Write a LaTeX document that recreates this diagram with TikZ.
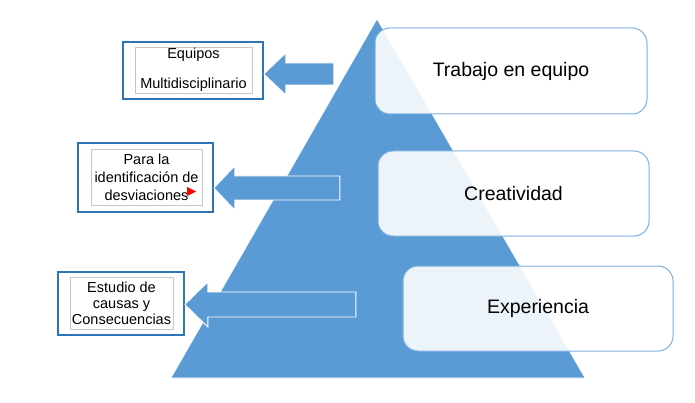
\documentclass[tikz,border=0pt]{standalone}
\usepackage{fontspec}
\setmainfont{Liberation Sans}
\definecolor{piramide}{HTML}{5B9BD5}
\definecolor{marco}{HTML}{2E75B6}
\definecolor{borde}{HTML}{80B0DE}

\tikzset{
  nivel/.style={draw=borde, line width=1pt, fill=white, fill opacity=.89, text opacity=1,
                rounded corners=15pt, inner sep=0pt, font=\fontsize{19.5}{23}\selectfont},
  caja/.style={draw=marco, line width=1.7pt, fill=white, inner sep=0pt},
  cajita/.style={draw=gray!45, line width=.7pt, inner sep=0pt, align=center,
                 font=\fontsize{14.5}{17}\selectfont},
  flecha/.style={fill=piramide, draw=white, line width=.8pt},
}

\begin{document}
\begin{tikzpicture}[x=1pt,y=-1pt]
	\useasboundingbox (0,0) rectangle (695,403);

	% piramide
	\coordinate (P) at (377,19);
	\coordinate (Q) at (585,378);
	\coordinate (R) at (171,378);
	\fill[piramide, draw=white, line width=.6pt] (P) -- (Q) -- (R) -- cycle;

	% niveles
	\node (trabajo) at (511,71) [nivel, minimum width=272, minimum height=86] {Trabajo en equipo};
	\node (crea) at (513.5,193.5) [nivel, minimum width=271, minimum height=85] {Creatividad};
	\node (expe) at (538,308.5) [nivel, minimum width=270, minimum height=85] {Experiencia};

	% cajas de la izquierda
	\node (eq) at (193,70.5) [caja, minimum width=140, minimum height=57] {};
	\node (eqin) at (193.5,70) [cajita, minimum width=117, minimum height=46]
	      {Equipos\\[13pt]Multidisciplinario};

	\node (ide) at (145.5,177.5) [caja, minimum width=135, minimum height=69] {};
	\node (idein) at (146.5,177) [cajita, minimum width=111, minimum height=56, font=\fontsize{14.5}{18}\selectfont]
	      {Para la\\identificación de\\desviaciones\hspace{8pt}};
	\fill[red] (187,187) -- (196,191.5) -- (187,196) -- cycle;

	\node (est) at (121,303.5) [caja, minimum width=126, minimum height=63] {};
	\node (estin) at (121.5,303) [cajita, minimum width=103, minimum height=52, font=\fontsize{14.5}{16}\selectfont]
	      {Estudio de\\causas y\\Consecuencias};

	% flechas
	\coordinate (t1) at (eq.east |- 0,74);
	\draw[flecha] (t1) -- ++(22,-21) -- ++(0,10) -- ++(48,0) -- ++(0,22) -- ++(-48,0) -- ++(0,10) -- cycle;

	\coordinate (t2) at (ide.east |- 0,188);
	\draw[flecha] (t2) -- ++(21,-22) -- ++(0,10) -- ++(105,0) -- ++(0,24) -- ++(-105,0) -- ++(0,10) -- cycle;

	\coordinate (t3) at (est.east |- 0,304.5);
	\draw[flecha] (t3) -- ++(23,-22.5) -- ++(0,10) -- ++(148,0) -- ++(0,25) -- ++(-148,0) -- ++(0,10) -- cycle;

\end{tikzpicture}
\end{document}
